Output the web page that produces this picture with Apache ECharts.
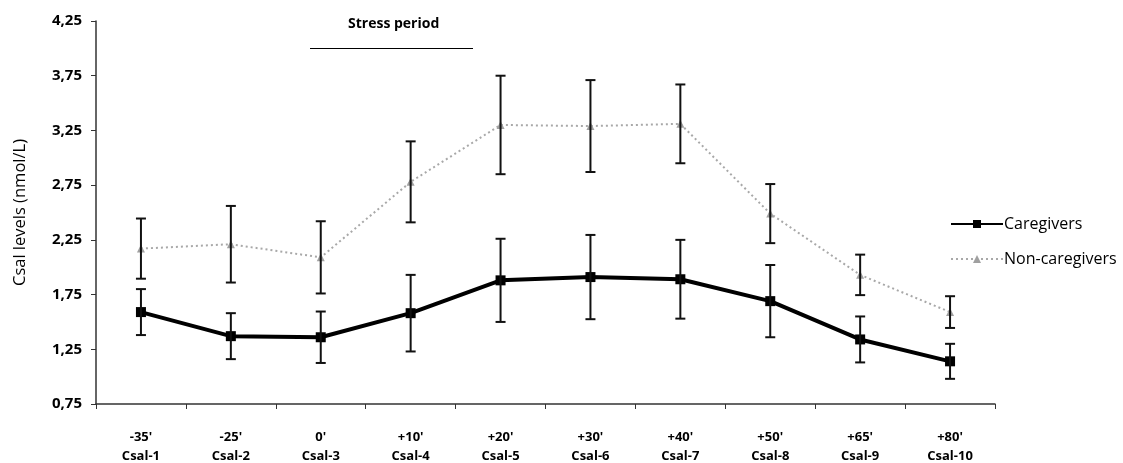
<!DOCTYPE html>
<html>
<head>
<meta charset="utf-8">
<script src="https://cdn.jsdelivr.net/npm/echarts@6/dist/echarts.min.js"></script>
<style>
  html, body { margin: 0; padding: 0; background: #fff; }
  #chart { width: 1123px; height: 463px; }
</style>
</head>
<body>
<div id="chart"></div>
<script>
// time points and sample labels
var times = ["-35'", "-25'", "0'", "+10'", "+20'", "+30'", "+40'", "+50'", "+65'", "+80'"];
var samples = ['Csal-1', 'Csal-2', 'Csal-3', 'Csal-4', 'Csal-5', 'Csal-6', 'Csal-7', 'Csal-8', 'Csal-9', 'Csal-10'];

// means (nmol/L)
var caregivers    = [1.59, 1.37, 1.36, 1.58, 1.88, 1.91, 1.89, 1.69, 1.34, 1.14];
var nonCaregivers = [2.17, 2.21, 2.09, 2.78, 3.30, 3.29, 3.31, 2.49, 1.93, 1.59];

// error bar half-widths
var caregiversErr    = [0.21, 0.21, 0.235, 0.35, 0.38, 0.385, 0.36, 0.33, 0.21, 0.16];
var nonCaregiversErr = [0.275, 0.35, 0.33, 0.37, 0.45, 0.42, 0.36, 0.27, 0.185, 0.145];

var yTicks = { min: 0.75, max: 4.25, step: 0.5 };

var chart = echarts.init(document.getElementById('chart'));

function errData(mean, err) {
  return mean.map(function (m, i) { return [i, m - err[i], m + err[i]]; });
}

function renderErr(params, api) {
  var x = api.value(0);
  var lo = api.coord([x, api.value(1)]);
  var hi = api.coord([x, api.value(2)]);
  var half = 5;
  var style = { stroke: '#111', lineWidth: 2 };
  return {
    type: 'group',
    children: [
      { type: 'line', shape: { x1: hi[0], y1: hi[1], x2: lo[0], y2: lo[1] }, style: style },
      { type: 'line', shape: { x1: hi[0] - half, y1: hi[1], x2: hi[0] + half, y2: hi[1] }, style: style },
      { type: 'line', shape: { x1: lo[0] - half, y1: lo[1], x2: lo[0] + half, y2: lo[1] }, style: style }
    ]
  };
}

var labels = times.map(function (t, i) { return t + '\n' + samples[i]; });
var font = '"Open Sans", "Liberation Sans", sans-serif';

chart.setOption({
  animation: false,
  textStyle: { fontFamily: font },
  grid: { left: 96, right: 128, top: 21, bottom: 59, outerBoundsMode: 'none' },
  legend: {
    orient: 'vertical',
    left: 945,
    top: 211,
    itemWidth: 52,
    itemHeight: 10,
    itemGap: 19,
    textStyle: { fontSize: 16, color: '#000', fontFamily: font, padding: [0, 0, 0, -4] },
    data: ['Caregivers', 'Non-caregivers']
  },
  xAxis: {
    type: 'category',
    data: labels,
    boundaryGap: true,
    axisLine: { lineStyle: { color: '#333', width: 1.5 } },
    axisTick: { show: true, length: 5, lineStyle: { color: '#333' } },
    axisLabel: { margin: 24, fontSize: 13, fontWeight: 'bold', color: '#000', lineHeight: 19, interval: 0 }
  },
  yAxis: {
    type: 'value',
    min: yTicks.min,
    max: yTicks.max,
    interval: yTicks.step,
    name: 'Csal levels (nmol/L)',
    nameLocation: 'middle',
    nameGap: 67,
    nameTextStyle: { fontSize: 16.5, color: '#000' },
    splitLine: { show: false },
    axisLine: { show: true, lineStyle: { color: '#333', width: 1.5 } },
    axisTick: { show: true, length: 5, lineStyle: { color: '#333' } },
    axisLabel: {
      margin: 14, fontSize: 15, fontWeight: 'bold', color: '#000',
      formatter: function (v) { return v.toFixed(2).replace('.', ','); }
    }
  },
  graphic: [
    { type: 'text', left: 348, top: 17, style: { text: 'Stress period', font: 'bold 14px ' + font, fill: '#000' } },
    { type: 'line', shape: { x1: 310, y1: 48.5, x2: 473, y2: 48.5 }, style: { stroke: '#000', lineWidth: 1 } }
  ],
  series: [
    {
      name: 'Non-caregivers',
      type: 'line',
      data: nonCaregivers,
      symbol: 'triangle',
      symbolSize: 8,
      itemStyle: { color: '#a0a0a0' },
      lineStyle: { color: '#a8a8a8', width: 2, type: [2, 3] },
      z: 3
    },
    {
      name: 'Non-caregivers-err',
      type: 'custom',
      renderItem: renderErr,
      data: errData(nonCaregivers, nonCaregiversErr),
      encode: { x: 0, y: [1, 2] },
      z: 4
    },
    {
      name: 'Caregivers',
      type: 'line',
      data: caregivers,
      symbol: 'rect',
      symbolSize: 10,
      itemStyle: { color: '#000' },
      lineStyle: { color: '#000', width: 4 },
      z: 5
    },
    {
      name: 'Caregivers-err',
      type: 'custom',
      renderItem: renderErr,
      data: errData(caregivers, caregiversErr),
      encode: { x: 0, y: [1, 2] },
      z: 6
    }
  ]
});
</script>
</body>
</html>
